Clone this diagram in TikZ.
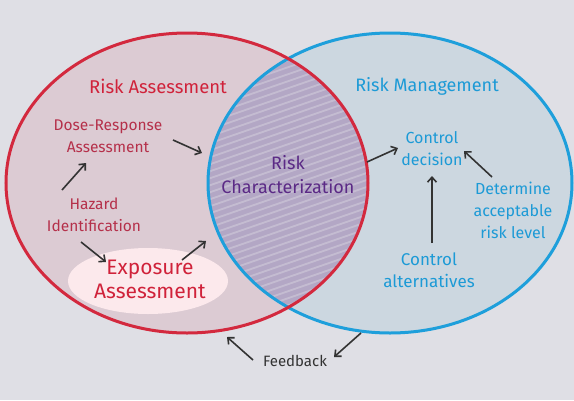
\documentclass[tikz,border=0pt]{standalone}
\usepackage{fontspec}
\setmainfont{Fira Sans}
\usetikzlibrary{arrows.meta}
\definecolor{bgc}{HTML}{DFDFE5}
\definecolor{redfill}{HTML}{DCCBD3}
\definecolor{bluefill}{HTML}{CCD7E0}
\definecolor{lensfill}{HTML}{B3A7C5}
\definecolor{hatchc}{HTML}{CBC4D6}
\definecolor{redline}{HTML}{D3293E}
\definecolor{blueline}{HTML}{1E9FDB}
\definecolor{redtitle}{HTML}{D0223A}
\definecolor{redtext}{HTML}{B5304A}
\definecolor{expofill}{HTML}{FCE9EC}
\definecolor{purpletext}{HTML}{5B2A86}
\definecolor{bluetext}{HTML}{1C9AD6}
\definecolor{arrowc}{HTML}{333333}
\tikzset{
  arr/.style={draw=arrowc, line width=1.6pt, -{Straight Barb[length=5pt,width=9pt]}},
  lbl/.style={align=center, inner sep=1pt, font=\fontsize{15.5}{22}\selectfont},
}
\begin{document}
\begin{tikzpicture}[x=1pt,y=-1pt]
\useasboundingbox (0,0) rectangle (574,400);
\fill[bgc] (0,0) rectangle (574,400);
% fills
\fill[redfill] (187,183) ellipse [x radius=181pt, y radius=150pt];
\fill[bluefill] (390,183) ellipse [x radius=182pt, y radius=150pt];
\begin{scope}
  \clip (187,183) ellipse [x radius=181pt, y radius=150pt];
  \fill[lensfill] (390,183) ellipse [x radius=182pt, y radius=150pt];
  \clip (390,183) ellipse [x radius=182pt, y radius=150pt];
  \foreach \i in {0,...,55} {
    \draw[hatchc, line width=1.8pt, opacity=0.75, line cap=round] (150,{10+\i*7}) -- ++(260,-90);
  }
\end{scope}
% outlines
\draw[blueline, line width=3pt] (390,183) ellipse [x radius=182pt, y radius=150pt];
\draw[redline, line width=3pt] (187,183) ellipse [x radius=181pt, y radius=150pt];
% exposure highlight
\fill[expofill] (148,281) ellipse [x radius=80pt, y radius=33pt];
% labels
\node[lbl, text=redtitle, font=\fontsize{18.5}{22}\selectfont] (ra) at (158,86) {Risk Assessment};
\node[lbl, text=redtext] (dose) at (108,136) {Dose-Response\\Assessment};
\node[lbl, text=redtext] (haz) at (94,215) {Hazard\\Identification};
\node[lbl, text=redtitle, font=\fontsize{21}{24}\selectfont] (expo) at (150,279) {Exposure\\Assessment};
\node[lbl, text=purpletext, font=\fontsize{18}{24}\selectfont] (rc) at (288,175) {Risk\\Characterization};
\node[lbl, text=bluetext, font=\fontsize{18}{22}\selectfont] (rm) at (427,86) {Risk Management};
\node[lbl, text=bluetext, font=\fontsize{16}{22}\selectfont] (cd) at (432,149) {Control\\decision};
\node[lbl, text=bluetext, font=\fontsize{16}{22}\selectfont] (det) at (513,210) {Determine\\acceptable\\risk level};
\node[lbl, text=bluetext, font=\fontsize{17}{22}\selectfont] (ca) at (429,270) {Control\\alternatives};
\node[lbl, text=arrowc, font=\fontsize{15}{18}\selectfont] (fb) at (295,361) {Feedback};
% arrow end coordinates
\coordinate (d1) at (173,140); \coordinate (d2) at (202,153);
\coordinate (h1) at (62,190);  \coordinate (h2) at (86,163);
\coordinate (h3) at (81,242);  \coordinate (h4) at (106,262);
\coordinate (e1) at (182,260); \coordinate (e2) at (206,241);
\coordinate (r1) at (367,162); \coordinate (r2) at (398,148);
\coordinate (t1) at (492,177); \coordinate (t2) at (464,151);
\coordinate (c1) at (432,243); \coordinate (c2) at (432,176);
\coordinate (f1) at (361,333); \coordinate (f2) at (334,357);
\coordinate (f3) at (253,360); \coordinate (f4) at (227,337);
% connectors
\draw[arr] (d1) -- (d2);
\draw[arr] (h1) -- (h2);
\draw[arr] (h3) -- (h4);
\draw[arr] (e1) -- (e2);
\draw[arr] (r1) -- (r2);
\draw[arr] (t1) -- (t2);
\draw[arr] (c1) -- (c2);
\draw[arr] (f1) -- (f2);
\draw[arr] (f3) -- (f4);
\end{tikzpicture}
\end{document}
